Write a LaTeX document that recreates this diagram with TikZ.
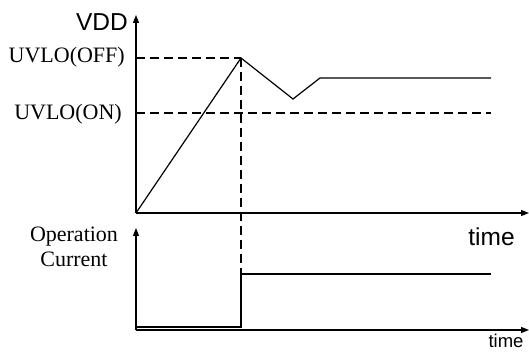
\documentclass[tikz,border=0pt]{standalone}
\usepackage{fontspec}
\setmainfont{Liberation Serif}
\newfontfamily\arialfont{Liberation Sans}
\usetikzlibrary{arrows.meta}
\begin{document}
\begin{tikzpicture}[x=1pt,y=-1pt,
  axis/.style={line width=1.3pt,-{Triangle[length=8pt,width=6pt]}},
  sig/.style={line width=1.2pt},
  guide/.style={line width=1.2pt,dash pattern=on 9pt off 5pt},
  serlab/.style={font=\fontsize{22}{26}\selectfont,inner sep=0pt},
  sanlab/.style={font=\arialfont\fontsize{24.5}{28}\selectfont,inner sep=0pt}]
\useasboundingbox (0,0) rectangle (529,352);
% top graph
\coordinate (o1) at (136,213);
\coordinate (y1) at (136,15);
\coordinate (x1) at (529,213);
\coordinate (offL) at (136,58);
\coordinate (peak) at (241,58);
\coordinate (onL) at (136,113);
\coordinate (onR) at (491,113);
\coordinate (dip) at (293,99);
\coordinate (rise) at (320,78);
\coordinate (flatR) at (491,78);
% bottom graph
\coordinate (o2) at (136,330);
\coordinate (y2) at (136,228);
\coordinate (x2) at (529,330);
\coordinate (lowL) at (136,327);
\coordinate (lowR) at (241,327);
\coordinate (stepT) at (241,274);
\coordinate (highR) at (491,274);

\draw[axis] (o1) -- (y1);
\draw[axis] (o1) -- (x1);
\draw[axis] (o2) -- (y2);
\draw[axis] (o2) -- (x2);

\draw[guide] (offL) -- (peak);
\draw[guide] (onL) -- (onR);
\draw[guide] (peak) -- (stepT);

\draw[sig] (o1) -- (peak) -- (dip) -- (rise) -- (flatR);
\draw[sig] (lowL) -- (lowR) -- (stepT) -- (highR);

\node[sanlab,anchor=base east] (vdd) at (128,31) {VDD};
\node[serlab,anchor=base east] (off) at (125,63) {UVLO(OFF)};
\node[serlab,anchor=base east] (on) at (122,120) {UVLO(ON)};
\node[sanlab,anchor=base] (t1) at (491.5,245) {time};
\node[sanlab,anchor=base,font=\arialfont\fontsize{18.5}{22}\selectfont] (t2) at (506,347.5) {time};
\node[serlab,anchor=base] (op) at (74,241) {Operation};
\node[serlab,anchor=base] (cur) at (74,266) {Current};
\end{tikzpicture}
\end{document}
